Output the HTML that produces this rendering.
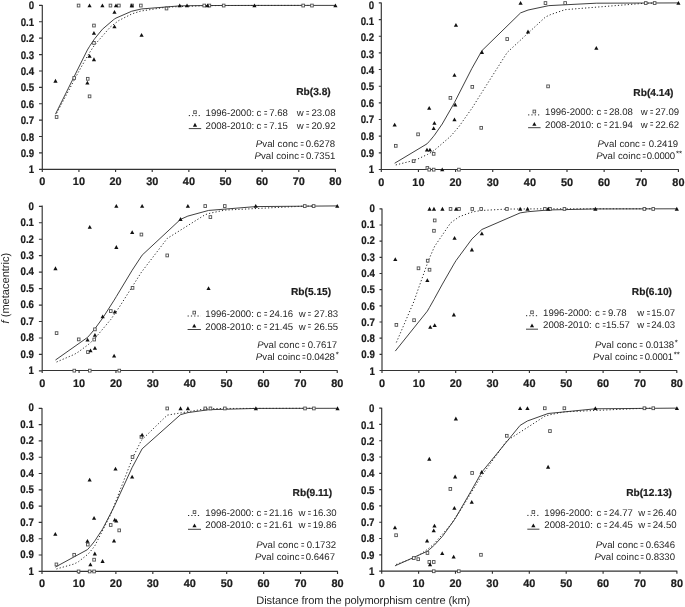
<!DOCTYPE html>
<html lang="en"><head><meta charset="utf-8"><title>Clines</title>
<style>html,body{margin:0;padding:0;background:#fff}body{width:685px;height:607px;overflow:hidden}svg{display:block;text-rendering:geometricPrecision}text{font-family:"Liberation Sans",Arial,sans-serif}.tk{font-weight:bold;font-size:11.0px;fill:#1c1c1c;stroke:#1c1c1c;stroke-width:0.22}.lg{font-size:9.6px;fill:#262626}.st{font-size:7.8px}.rb{font-weight:bold;font-size:10.2px;fill:#1c1c1c;stroke:#1c1c1c;stroke-width:0.2}.ax{stroke:#333;stroke-width:1.15;fill:none}.sl{stroke:#2a2a2a;stroke-width:0.9;fill:none;stroke-linejoin:round}.dl{stroke:#2a2a2a;stroke-width:1;fill:none;stroke-dasharray:1.2 2.1}.sq{fill:#fff;stroke:#505050;stroke-width:0.9}.tr{fill:#111;stroke:none}</style></head><body>
<svg width="685" height="607" viewBox="0 0 685 607">
<rect x="0" y="0" width="685" height="607" fill="#fff"/>
<g>
<path class="ax" d="M42.30 5.10V169.30H335.82M42.30 5.40h-3.3M42.30 21.79h-3.3M42.30 38.18h-3.3M42.30 54.57h-3.3M42.30 70.96h-3.3M42.30 87.35h-3.3M42.30 103.74h-3.3M42.30 120.13h-3.3M42.30 136.52h-3.3M42.30 152.91h-3.3M42.30 169.30h-3.3M42.30 169.30v2.6M78.94 169.30v2.6M115.58 169.30v2.6M152.22 169.30v2.6M188.86 169.30v2.6M225.50 169.30v2.6M262.14 169.30v2.6M298.78 169.30v2.6M335.42 169.30v2.6"/>
<text class="tk" text-anchor="end" transform="translate(34.1 9.3) scale(0.88 1)">0</text>
<text class="tk" text-anchor="end" transform="translate(34.1 25.7) scale(0.88 1)">0.1</text>
<text class="tk" text-anchor="end" transform="translate(34.1 42.1) scale(0.88 1)">0.2</text>
<text class="tk" text-anchor="end" transform="translate(34.1 58.5) scale(0.88 1)">0.3</text>
<text class="tk" text-anchor="end" transform="translate(34.1 74.9) scale(0.88 1)">0.4</text>
<text class="tk" text-anchor="end" transform="translate(34.1 91.3) scale(0.88 1)">0.5</text>
<text class="tk" text-anchor="end" transform="translate(34.1 107.7) scale(0.88 1)">0.6</text>
<text class="tk" text-anchor="end" transform="translate(34.1 124.1) scale(0.88 1)">0.7</text>
<text class="tk" text-anchor="end" transform="translate(34.1 140.5) scale(0.88 1)">0.8</text>
<text class="tk" text-anchor="end" transform="translate(34.1 156.8) scale(0.88 1)">0.9</text>
<text class="tk" text-anchor="end" transform="translate(34.1 173.2) scale(0.88 1)">1</text>
<text class="tk" text-anchor="middle" transform="translate(42.3 185.3) scale(0.99 1)">0</text>
<text class="tk" text-anchor="middle" transform="translate(78.9 185.3) scale(0.99 1)">10</text>
<text class="tk" text-anchor="middle" transform="translate(115.6 185.3) scale(0.99 1)">20</text>
<text class="tk" text-anchor="middle" transform="translate(152.2 185.3) scale(0.99 1)">30</text>
<text class="tk" text-anchor="middle" transform="translate(188.9 185.3) scale(0.99 1)">40</text>
<text class="tk" text-anchor="middle" transform="translate(225.5 185.3) scale(0.99 1)">50</text>
<text class="tk" text-anchor="middle" transform="translate(262.1 185.3) scale(0.99 1)">60</text>
<text class="tk" text-anchor="middle" transform="translate(298.8 185.3) scale(0.99 1)">70</text>
<text class="tk" text-anchor="middle" transform="translate(335.4 185.3) scale(0.99 1)">80</text>
<polyline class="dl" points="56.59,113.27 74.18,80.13 78.57,71.78 87.73,55.58 89.57,52.62 93.96,45.95 94.70,44.90 110.45,26.86 118.88,20.46 132.07,13.83 140.86,11.06 166.51,7.12 204.25,5.69 209.38,5.63 223.67,5.52 303.18,5.40 311.97,5.40"/>
<polyline class="sl" points="55.49,114.14 87.37,49.97 89.57,46.35 90.30,45.19 93.96,39.71 94.70,38.69 102.39,29.28 113.75,19.52 114.48,19.04 115.95,18.11 131.70,11.24 141.59,8.94 179.70,5.89 187.03,5.74 207.55,5.52 254.45,5.41 335.42,5.40"/>
<rect class="sq" x="77.27" y="4.15" width="2.6" height="2.8"/>
<rect class="sq" x="109.15" y="4.15" width="2.6" height="2.8"/>
<rect class="sq" x="117.58" y="4.15" width="2.6" height="2.8"/>
<rect class="sq" x="130.77" y="4.15" width="2.6" height="2.8"/>
<rect class="sq" x="139.56" y="4.15" width="2.6" height="2.8"/>
<rect class="sq" x="165.21" y="7.10" width="2.6" height="2.8"/>
<rect class="sq" x="92.66" y="24.15" width="2.6" height="2.8"/>
<rect class="sq" x="92.66" y="41.52" width="2.6" height="2.8"/>
<rect class="sq" x="72.88" y="76.59" width="2.6" height="2.8"/>
<rect class="sq" x="86.43" y="77.41" width="2.6" height="2.8"/>
<rect class="sq" x="88.27" y="94.95" width="2.6" height="2.8"/>
<rect class="sq" x="55.29" y="115.60" width="2.6" height="2.8"/>
<rect class="sq" x="202.95" y="4.15" width="2.6" height="2.8"/>
<rect class="sq" x="208.08" y="4.15" width="2.6" height="2.8"/>
<rect class="sq" x="222.37" y="4.15" width="2.6" height="2.8"/>
<rect class="sq" x="301.88" y="4.15" width="2.6" height="2.8"/>
<rect class="sq" x="310.67" y="4.15" width="2.6" height="2.8"/>
<path class="tr" d="M89.57 3.45L87.47 7.25L91.67 7.25Z"/>
<path class="tr" d="M102.39 3.45L100.29 7.25L104.49 7.25Z"/>
<path class="tr" d="M115.95 3.45L113.85 7.25L118.05 7.25Z"/>
<path class="tr" d="M131.70 3.45L129.60 7.25L133.80 7.25Z"/>
<path class="tr" d="M114.48 10.01L112.38 13.81L116.58 13.81Z"/>
<path class="tr" d="M114.48 24.43L112.38 28.23L116.58 28.23Z"/>
<path class="tr" d="M93.96 30.99L91.86 34.79L96.06 34.79Z"/>
<path class="tr" d="M141.59 32.95L139.49 36.75L143.69 36.75Z"/>
<path class="tr" d="M89.57 53.93L87.47 57.73L91.67 57.73Z"/>
<path class="tr" d="M93.96 57.37L91.86 61.17L96.06 61.17Z"/>
<path class="tr" d="M55.49 78.84L53.39 82.64L57.59 82.64Z"/>
<path class="tr" d="M87.37 80.81L85.27 84.61L89.47 84.61Z"/>
<path class="tr" d="M179.70 3.45L177.60 7.25L181.80 7.25Z"/>
<path class="tr" d="M187.03 3.45L184.93 7.25L189.13 7.25Z"/>
<path class="tr" d="M207.55 3.45L205.45 7.25L209.65 7.25Z"/>
<path class="tr" d="M254.45 3.45L252.35 7.25L256.55 7.25Z"/>
<path class="tr" d="M335.42 3.45L333.32 7.25L337.52 7.25Z"/>
<text class="rb" text-anchor="end" x="330.7" y="95.4">Rb(3.8)</text>
<path class="dl" d="M188.8 115.6H201.2"/>
<rect class="sq" x="193.70" y="110.80" width="2.6" height="2.8"/>
<path class="sl" d="M188.8 128.6H201.2"/>
<path class="tr" d="M195.00 122.85L192.90 126.65L197.10 126.65Z"/>
<text class="lg" y="116.3"><tspan x="205.6">1996-2000:</tspan><tspan x="256.4">c</tspan><tspan x="269.2">7.68</tspan><tspan x="296.8">w</tspan><tspan x="335.5" text-anchor="end">23.08</tspan></text>
<text class="lg" text-anchor="middle" transform="translate(265.8 116.2) scale(0.6 1)">=</text>
<text class="lg" text-anchor="middle" transform="translate(307.7 116.2) scale(0.6 1)">=</text>
<text class="lg" y="129.2"><tspan x="205.6">2008-2010:</tspan><tspan x="256.4">c</tspan><tspan x="269.2">7.15</tspan><tspan x="296.8">w</tspan><tspan x="335.5" text-anchor="end">20.92</tspan></text>
<text class="lg" text-anchor="middle" transform="translate(265.8 129.1) scale(0.6 1)">=</text>
<text class="lg" text-anchor="middle" transform="translate(307.7 129.1) scale(0.6 1)">=</text>
<text class="lg" y="147.2"><tspan x="255.8" letter-spacing="0.09"><tspan font-style="italic">P</tspan>val conc</tspan><tspan x="335.1" text-anchor="end">0.6278</tspan></text>
<text class="lg" text-anchor="middle" transform="translate(302.1 147.1) scale(0.6 1)">=</text>
<text class="lg" y="159.4"><tspan x="254.4" letter-spacing="0.09"><tspan font-style="italic">P</tspan>val coinc</tspan><tspan x="335.3" text-anchor="end">0.7351</tspan></text>
<text class="lg" text-anchor="middle" transform="translate(302.5 159.3) scale(0.6 1)">=</text>
</g>
<g>
<path class="ax" d="M381.30 2.60V169.50H678.82M381.30 2.90h-2.5M381.30 19.56h-2.5M381.30 36.22h-2.5M381.30 52.88h-2.5M381.30 69.54h-2.5M381.30 86.20h-2.5M381.30 102.86h-2.5M381.30 119.52h-2.5M381.30 136.18h-2.5M381.30 152.84h-2.5M381.30 169.50h-2.5M381.30 169.50v2.6M418.44 169.50v2.6M455.58 169.50v2.6M492.72 169.50v2.6M529.86 169.50v2.6M567.00 169.50v2.6M604.14 169.50v2.6M641.28 169.50v2.6M678.42 169.50v2.6"/>
<text class="tk" text-anchor="end" transform="translate(374.1 8.6) scale(0.88 1)">0</text>
<text class="tk" text-anchor="end" transform="translate(374.1 25.0) scale(0.88 1)">0.1</text>
<text class="tk" text-anchor="end" transform="translate(374.1 41.3) scale(0.88 1)">0.2</text>
<text class="tk" text-anchor="end" transform="translate(374.1 57.6) scale(0.88 1)">0.3</text>
<text class="tk" text-anchor="end" transform="translate(374.1 74.0) scale(0.88 1)">0.4</text>
<text class="tk" text-anchor="end" transform="translate(374.1 90.3) scale(0.88 1)">0.5</text>
<text class="tk" text-anchor="end" transform="translate(374.1 106.6) scale(0.88 1)">0.6</text>
<text class="tk" text-anchor="end" transform="translate(374.1 123.3) scale(0.88 1)">0.7</text>
<text class="tk" text-anchor="end" transform="translate(374.1 139.9) scale(0.88 1)">0.8</text>
<text class="tk" text-anchor="end" transform="translate(374.1 156.6) scale(0.88 1)">0.9</text>
<text class="tk" text-anchor="end" transform="translate(374.1 173.2) scale(0.88 1)">1</text>
<text class="tk" text-anchor="middle" transform="translate(381.3 185.5) scale(0.99 1)">0</text>
<text class="tk" text-anchor="middle" transform="translate(418.4 185.5) scale(0.99 1)">10</text>
<text class="tk" text-anchor="middle" transform="translate(455.6 185.5) scale(0.99 1)">20</text>
<text class="tk" text-anchor="middle" transform="translate(492.7 185.5) scale(0.99 1)">30</text>
<text class="tk" text-anchor="middle" transform="translate(529.9 185.5) scale(0.99 1)">40</text>
<text class="tk" text-anchor="middle" transform="translate(567.0 185.5) scale(0.99 1)">50</text>
<text class="tk" text-anchor="middle" transform="translate(604.1 185.5) scale(0.99 1)">60</text>
<text class="tk" text-anchor="middle" transform="translate(641.3 185.5) scale(0.99 1)">70</text>
<text class="tk" text-anchor="middle" transform="translate(678.4 185.5) scale(0.99 1)">80</text>
<polyline class="dl" points="395.78,164.94 413.61,160.49 418.07,158.85 427.35,154.53 429.21,153.49 433.67,150.74 434.41,150.24 450.38,136.54 458.92,126.64 472.29,107.72 481.21,93.44 507.20,52.46 545.46,17.01 550.66,14.56 565.14,9.66 645.74,3.19 654.65,3.10"/>
<polyline class="sl" points="394.67,163.24 426.98,143.87 429.21,141.48 429.95,140.65 433.67,136.18 434.41,135.23 442.21,124.03 453.72,103.90 454.47,102.49 455.95,99.63 471.92,68.36 481.95,50.63 520.58,12.90 528.00,10.05 548.80,5.63 596.34,3.19 678.42,2.91"/>
<rect class="sq" x="394.48" y="144.43" width="2.6" height="2.8"/>
<rect class="sq" x="412.31" y="159.75" width="2.6" height="2.8"/>
<rect class="sq" x="416.77" y="132.93" width="2.6" height="2.8"/>
<rect class="sq" x="426.05" y="166.58" width="2.6" height="2.8"/>
<rect class="sq" x="427.91" y="168.25" width="2.6" height="2.8"/>
<rect class="sq" x="432.37" y="168.25" width="2.6" height="2.8"/>
<rect class="sq" x="432.37" y="152.42" width="2.6" height="2.8"/>
<rect class="sq" x="449.08" y="96.45" width="2.6" height="2.8"/>
<rect class="sq" x="457.62" y="168.25" width="2.6" height="2.8"/>
<rect class="sq" x="479.91" y="126.43" width="2.6" height="2.8"/>
<rect class="sq" x="470.99" y="85.45" width="2.6" height="2.8"/>
<rect class="sq" x="505.90" y="37.64" width="2.6" height="2.8"/>
<rect class="sq" x="544.16" y="1.65" width="2.6" height="2.8"/>
<rect class="sq" x="563.84" y="1.65" width="2.6" height="2.8"/>
<rect class="sq" x="644.44" y="1.65" width="2.6" height="2.8"/>
<rect class="sq" x="653.35" y="1.65" width="2.6" height="2.8"/>
<rect class="sq" x="546.76" y="84.95" width="2.6" height="2.8"/>
<path class="tr" d="M394.67 122.73L392.57 126.53L396.77 126.53Z"/>
<path class="tr" d="M429.21 105.91L427.11 109.71L431.31 109.71Z"/>
<path class="tr" d="M434.41 120.90L432.31 124.70L436.51 124.70Z"/>
<path class="tr" d="M433.67 126.23L431.57 130.03L435.77 130.03Z"/>
<path class="tr" d="M426.98 147.72L424.88 151.52L429.08 151.52Z"/>
<path class="tr" d="M429.95 147.72L427.85 151.52L432.05 151.52Z"/>
<path class="tr" d="M442.21 167.55L440.11 171.35L444.31 171.35Z"/>
<path class="tr" d="M455.21 102.58L453.11 106.38L457.31 106.38Z"/>
<path class="tr" d="M454.47 117.57L452.37 121.37L456.57 121.37Z"/>
<path class="tr" d="M455.95 22.94L453.85 26.74L458.05 26.74Z"/>
<path class="tr" d="M454.47 72.92L452.37 76.72L456.57 76.72Z"/>
<path class="tr" d="M481.95 50.10L479.85 53.90L484.05 53.90Z"/>
<path class="tr" d="M520.58 0.95L518.48 4.75L522.68 4.75Z"/>
<path class="tr" d="M678.42 0.95L676.32 4.75L680.52 4.75Z"/>
<path class="tr" d="M528.00 29.61L525.90 33.41L530.10 33.41Z"/>
<path class="tr" d="M596.34 45.93L594.24 49.73L598.44 49.73Z"/>
<text class="rb" text-anchor="end" x="673.5" y="96.0">Rb(4.14)</text>
<path class="dl" d="M528.1 114.9H540.6"/>
<rect class="sq" x="533.05" y="110.10" width="2.6" height="2.8"/>
<path class="sl" d="M528.1 127.7H540.6"/>
<path class="tr" d="M534.35 121.95L532.25 125.75L536.45 125.75Z"/>
<text class="lg" y="115.0"><tspan x="545.1">1996-2000:</tspan><tspan x="596.5">c</tspan><tspan x="608.9">28.08</tspan><tspan x="640.7">w</tspan><tspan x="679.2" text-anchor="end">27.09</tspan></text>
<text class="lg" text-anchor="middle" transform="translate(605.8 114.9) scale(0.6 1)">=</text>
<text class="lg" text-anchor="middle" transform="translate(651.6 114.9) scale(0.6 1)">=</text>
<text class="lg" y="127.5"><tspan x="545.1">2008-2010:</tspan><tspan x="596.5">c</tspan><tspan x="608.9">21.94</tspan><tspan x="640.7">w</tspan><tspan x="679.2" text-anchor="end">22.62</tspan></text>
<text class="lg" text-anchor="middle" transform="translate(605.8 127.4) scale(0.6 1)">=</text>
<text class="lg" text-anchor="middle" transform="translate(651.6 127.4) scale(0.6 1)">=</text>
<text class="lg" y="146.7"><tspan x="597.6" letter-spacing="0.09"><tspan font-style="italic">P</tspan>val conc</tspan><tspan x="678.1" text-anchor="end">0.2419</tspan></text>
<text class="lg" text-anchor="middle" transform="translate(643.6 146.6) scale(0.6 1)">=</text>
<text class="lg" y="159.0"><tspan x="596.2" letter-spacing="0.09"><tspan font-style="italic">P</tspan>val coinc</tspan><tspan x="674.9" text-anchor="end" letter-spacing="-0.2">0.0000</tspan><tspan class="st" x="675.9" dy="-2.6">**</tspan></text>
<text class="lg" text-anchor="middle" transform="translate(644.2 158.9) scale(0.6 1)">=</text>
</g>
<g>
<path class="ax" d="M42.20 205.60V370.50H337.64M42.20 206.30h-3.3M42.20 222.76h-3.3M42.20 239.22h-3.3M42.20 255.68h-3.3M42.20 272.14h-3.3M42.20 288.60h-3.3M42.20 305.06h-3.3M42.20 321.52h-3.3M42.20 337.98h-3.3M42.20 354.44h-3.3M42.20 370.90h-3.3M42.20 370.50v2.6M79.08 370.50v2.6M115.96 370.50v2.6M152.84 370.50v2.6M189.72 370.50v2.6M226.60 370.50v2.6M263.48 370.50v2.6M300.36 370.50v2.6M337.24 370.50v2.6"/>
<text class="tk" text-anchor="end" transform="translate(34.0 209.5) scale(0.88 1)">0</text>
<text class="tk" text-anchor="end" transform="translate(34.0 226.0) scale(0.88 1)">0.1</text>
<text class="tk" text-anchor="end" transform="translate(34.0 242.5) scale(0.88 1)">0.2</text>
<text class="tk" text-anchor="end" transform="translate(34.0 258.9) scale(0.88 1)">0.3</text>
<text class="tk" text-anchor="end" transform="translate(34.0 275.4) scale(0.88 1)">0.4</text>
<text class="tk" text-anchor="end" transform="translate(34.0 291.8) scale(0.88 1)">0.5</text>
<text class="tk" text-anchor="end" transform="translate(34.0 308.3) scale(0.88 1)">0.6</text>
<text class="tk" text-anchor="end" transform="translate(34.0 324.8) scale(0.88 1)">0.7</text>
<text class="tk" text-anchor="end" transform="translate(34.0 341.2) scale(0.88 1)">0.8</text>
<text class="tk" text-anchor="end" transform="translate(34.0 357.7) scale(0.88 1)">0.9</text>
<text class="tk" text-anchor="end" transform="translate(34.0 374.1) scale(0.88 1)">1</text>
<text class="tk" text-anchor="middle" transform="translate(42.2 386.5) scale(0.99 1)">0</text>
<text class="tk" text-anchor="middle" transform="translate(79.1 386.5) scale(0.99 1)">10</text>
<text class="tk" text-anchor="middle" transform="translate(116.0 386.5) scale(0.99 1)">20</text>
<text class="tk" text-anchor="middle" transform="translate(152.8 386.5) scale(0.99 1)">30</text>
<text class="tk" text-anchor="middle" transform="translate(189.7 386.5) scale(0.99 1)">40</text>
<text class="tk" text-anchor="middle" transform="translate(226.6 386.5) scale(0.99 1)">50</text>
<text class="tk" text-anchor="middle" transform="translate(263.5 386.5) scale(0.99 1)">60</text>
<text class="tk" text-anchor="middle" transform="translate(300.4 386.5) scale(0.99 1)">70</text>
<text class="tk" text-anchor="middle" transform="translate(337.2 386.5) scale(0.99 1)">80</text>
<polyline class="dl" points="56.58,362.01 74.29,354.40 78.71,351.72 87.93,344.86 89.78,343.27 94.20,339.12 94.94,338.39 110.80,319.44 119.28,307.14 132.56,286.19 141.41,272.20 167.22,238.46 205.21,214.65 210.37,213.12 224.76,210.10 304.79,206.09 313.64,206.03"/>
<polyline class="sl" points="55.48,360.03 87.56,337.38 89.78,334.92 90.51,334.07 94.20,329.62 94.94,328.69 102.68,318.08 114.12,300.20 114.85,298.99 116.33,296.54 132.19,270.21 142.14,255.14 180.50,219.37 187.88,216.08 208.53,210.44 255.74,206.58 337.24,205.92"/>
<rect class="sq" x="140.11" y="233.13" width="2.6" height="2.8"/>
<rect class="sq" x="165.92" y="254.03" width="2.6" height="2.8"/>
<rect class="sq" x="131.26" y="286.46" width="2.6" height="2.8"/>
<rect class="sq" x="55.28" y="331.72" width="2.6" height="2.8"/>
<rect class="sq" x="77.41" y="337.98" width="2.6" height="2.8"/>
<rect class="sq" x="93.64" y="327.94" width="2.6" height="2.8"/>
<rect class="sq" x="92.90" y="338.14" width="2.6" height="2.8"/>
<rect class="sq" x="86.63" y="350.65" width="2.6" height="2.8"/>
<rect class="sq" x="109.50" y="309.66" width="2.6" height="2.8"/>
<rect class="sq" x="72.99" y="369.25" width="2.6" height="2.8"/>
<rect class="sq" x="88.48" y="369.25" width="2.6" height="2.8"/>
<rect class="sq" x="117.98" y="369.25" width="2.6" height="2.8"/>
<rect class="sq" x="203.91" y="204.65" width="2.6" height="2.8"/>
<rect class="sq" x="209.07" y="215.68" width="2.6" height="2.8"/>
<rect class="sq" x="223.46" y="204.65" width="2.6" height="2.8"/>
<rect class="sq" x="303.49" y="204.65" width="2.6" height="2.8"/>
<rect class="sq" x="312.34" y="204.65" width="2.6" height="2.8"/>
<path class="tr" d="M55.48 266.33L53.38 270.13L57.58 270.13Z"/>
<path class="tr" d="M89.78 225.02L87.68 228.82L91.88 228.82Z"/>
<path class="tr" d="M116.33 203.95L114.23 207.75L118.43 207.75Z"/>
<path class="tr" d="M142.14 203.95L140.04 207.75L144.24 207.75Z"/>
<path class="tr" d="M132.19 230.29L130.09 234.09L134.29 234.09Z"/>
<path class="tr" d="M116.33 245.10L114.23 248.90L118.43 248.90Z"/>
<path class="tr" d="M87.56 337.77L85.46 341.57L89.66 341.57Z"/>
<path class="tr" d="M94.94 333.00L92.84 336.80L97.04 336.80Z"/>
<path class="tr" d="M102.68 314.40L100.58 318.20L104.78 318.20Z"/>
<path class="tr" d="M114.85 309.79L112.75 313.59L116.95 313.59Z"/>
<path class="tr" d="M90.51 348.47L88.41 352.27L92.61 352.27Z"/>
<path class="tr" d="M94.94 346.00L92.84 349.80L97.04 349.80Z"/>
<path class="tr" d="M114.12 353.74L112.02 357.54L116.22 357.54Z"/>
<path class="tr" d="M180.50 217.12L178.40 220.92L182.60 220.92Z"/>
<path class="tr" d="M187.88 203.95L185.78 207.75L189.98 207.75Z"/>
<path class="tr" d="M255.74 203.95L253.64 207.75L257.84 207.75Z"/>
<path class="tr" d="M337.24 203.95L335.14 207.75L339.34 207.75Z"/>
<path class="tr" d="M208.53 286.25L206.43 290.05L210.63 290.05Z"/>
<text class="rb" text-anchor="end" x="331.2" y="295.0">Rb(5.15)</text>
<path class="dl" d="M187.6 316.0H200.9"/>
<rect class="sq" x="192.95" y="311.20" width="2.6" height="2.8"/>
<path class="sl" d="M187.6 329.5H200.9"/>
<path class="tr" d="M194.25 323.75L192.15 327.55L196.35 327.55Z"/>
<text class="lg" y="317.3"><tspan x="205.3">1996-2000:</tspan><tspan x="256.5">c</tspan><tspan x="269.2">24.16</tspan><tspan x="298.7">w</tspan><tspan x="338.1" text-anchor="end">27.83</tspan></text>
<text class="lg" text-anchor="middle" transform="translate(265.8 317.2) scale(0.6 1)">=</text>
<text class="lg" text-anchor="middle" transform="translate(309.5 317.2) scale(0.6 1)">=</text>
<text class="lg" y="329.5"><tspan x="205.3">2008-2010:</tspan><tspan x="256.5">c</tspan><tspan x="269.2">21.45</tspan><tspan x="298.7">w</tspan><tspan x="338.1" text-anchor="end">26.55</tspan></text>
<text class="lg" text-anchor="middle" transform="translate(265.8 329.4) scale(0.6 1)">=</text>
<text class="lg" text-anchor="middle" transform="translate(309.5 329.4) scale(0.6 1)">=</text>
<text class="lg" y="347.9"><tspan x="257.2" letter-spacing="0.09"><tspan font-style="italic">P</tspan>val conc</tspan><tspan x="337.1" text-anchor="end">0.7617</tspan></text>
<text class="lg" text-anchor="middle" transform="translate(303.5 347.8) scale(0.6 1)">=</text>
<text class="lg" y="360.0"><tspan x="255.8" letter-spacing="0.09"><tspan font-style="italic">P</tspan>val coinc</tspan><tspan x="334.7" text-anchor="end" letter-spacing="-0.2">0.0428</tspan><tspan class="st" x="335.7" dy="-2.6">*</tspan></text>
<text class="lg" text-anchor="middle" transform="translate(303.9 359.9) scale(0.6 1)">=</text>
</g>
<g>
<path class="ax" d="M382.00 208.50V370.50H677.20M382.00 208.80h-2.5M382.00 224.97h-2.5M382.00 241.14h-2.5M382.00 257.31h-2.5M382.00 273.48h-2.5M382.00 289.65h-2.5M382.00 305.82h-2.5M382.00 321.99h-2.5M382.00 338.16h-2.5M382.00 354.33h-2.5M382.00 370.50h-2.5M382.00 370.50v2.6M418.85 370.50v2.6M455.70 370.50v2.6M492.55 370.50v2.6M529.40 370.50v2.6M566.25 370.50v2.6M603.10 370.50v2.6M639.95 370.50v2.6M676.80 370.50v2.6"/>
<text class="tk" text-anchor="end" transform="translate(374.8 211.8) scale(0.88 1)">0</text>
<text class="tk" text-anchor="end" transform="translate(374.8 228.1) scale(0.88 1)">0.1</text>
<text class="tk" text-anchor="end" transform="translate(374.8 244.4) scale(0.88 1)">0.2</text>
<text class="tk" text-anchor="end" transform="translate(374.8 260.6) scale(0.88 1)">0.3</text>
<text class="tk" text-anchor="end" transform="translate(374.8 276.9) scale(0.88 1)">0.4</text>
<text class="tk" text-anchor="end" transform="translate(374.8 293.2) scale(0.88 1)">0.5</text>
<text class="tk" text-anchor="end" transform="translate(374.8 309.5) scale(0.88 1)">0.6</text>
<text class="tk" text-anchor="end" transform="translate(374.8 325.7) scale(0.88 1)">0.7</text>
<text class="tk" text-anchor="end" transform="translate(374.8 342.0) scale(0.88 1)">0.8</text>
<text class="tk" text-anchor="end" transform="translate(374.8 358.3) scale(0.88 1)">0.9</text>
<text class="tk" text-anchor="end" transform="translate(374.8 374.5) scale(0.88 1)">1</text>
<text class="tk" text-anchor="middle" transform="translate(382.0 386.5) scale(0.99 1)">0</text>
<text class="tk" text-anchor="middle" transform="translate(418.9 386.5) scale(0.99 1)">10</text>
<text class="tk" text-anchor="middle" transform="translate(455.7 386.5) scale(0.99 1)">20</text>
<text class="tk" text-anchor="middle" transform="translate(492.6 386.5) scale(0.99 1)">30</text>
<text class="tk" text-anchor="middle" transform="translate(529.4 386.5) scale(0.99 1)">40</text>
<text class="tk" text-anchor="middle" transform="translate(566.2 386.5) scale(0.99 1)">50</text>
<text class="tk" text-anchor="middle" transform="translate(603.1 386.5) scale(0.99 1)">60</text>
<text class="tk" text-anchor="middle" transform="translate(640.0 386.5) scale(0.99 1)">70</text>
<text class="tk" text-anchor="middle" transform="translate(676.8 386.5) scale(0.99 1)">80</text>
<polyline class="dl" points="396.37,342.44 414.06,301.16 418.48,288.36 427.69,262.62 429.54,257.96 433.96,247.79 434.70,246.24 450.54,222.99 459.02,216.83 472.28,211.99 481.13,210.50 506.92,209.07 544.88,208.82 550.04,208.81 564.41,208.80 644.37,208.80 653.22,208.80"/>
<polyline class="sl" points="395.27,351.10 427.33,311.13 429.54,307.33 430.27,306.04 433.96,299.49 434.70,298.16 442.43,284.07 453.86,264.11 454.59,262.90 456.07,260.53 471.91,239.03 481.86,229.49 520.19,212.89 527.56,211.76 548.19,209.98 595.36,208.94 676.80,208.80"/>
<rect class="sq" x="449.24" y="207.55" width="2.6" height="2.8"/>
<rect class="sq" x="457.72" y="207.55" width="2.6" height="2.8"/>
<rect class="sq" x="470.98" y="207.55" width="2.6" height="2.8"/>
<rect class="sq" x="479.83" y="207.55" width="2.6" height="2.8"/>
<rect class="sq" x="505.62" y="207.55" width="2.6" height="2.8"/>
<rect class="sq" x="433.40" y="219.03" width="2.6" height="2.8"/>
<rect class="sq" x="432.66" y="229.38" width="2.6" height="2.8"/>
<rect class="sq" x="426.39" y="259.29" width="2.6" height="2.8"/>
<rect class="sq" x="417.18" y="266.89" width="2.6" height="2.8"/>
<rect class="sq" x="428.24" y="268.35" width="2.6" height="2.8"/>
<rect class="sq" x="395.07" y="323.49" width="2.6" height="2.8"/>
<rect class="sq" x="412.76" y="318.80" width="2.6" height="2.8"/>
<rect class="sq" x="543.58" y="207.55" width="2.6" height="2.8"/>
<rect class="sq" x="548.74" y="207.55" width="2.6" height="2.8"/>
<rect class="sq" x="563.11" y="207.55" width="2.6" height="2.8"/>
<rect class="sq" x="643.07" y="207.55" width="2.6" height="2.8"/>
<rect class="sq" x="651.92" y="207.55" width="2.6" height="2.8"/>
<path class="tr" d="M395.27 257.14L393.17 260.94L397.37 260.94Z"/>
<path class="tr" d="M429.54 206.85L427.44 210.65L431.64 210.65Z"/>
<path class="tr" d="M433.96 206.85L431.86 210.65L436.06 210.65Z"/>
<path class="tr" d="M442.43 206.85L440.33 210.65L444.53 210.65Z"/>
<path class="tr" d="M456.07 206.85L453.97 210.65L458.17 210.65Z"/>
<path class="tr" d="M454.59 235.96L452.49 239.76L456.69 239.76Z"/>
<path class="tr" d="M427.33 278.16L425.23 281.96L429.43 281.96Z"/>
<path class="tr" d="M471.91 247.60L469.81 251.40L474.01 251.40Z"/>
<path class="tr" d="M481.86 231.43L479.76 235.23L483.96 235.23Z"/>
<path class="tr" d="M430.27 325.05L428.17 328.85L432.37 328.85Z"/>
<path class="tr" d="M434.70 323.27L432.60 327.07L436.80 327.07Z"/>
<path class="tr" d="M453.86 312.60L451.76 316.40L455.96 316.40Z"/>
<path class="tr" d="M520.19 206.85L518.09 210.65L522.29 210.65Z"/>
<path class="tr" d="M527.56 206.85L525.46 210.65L529.66 210.65Z"/>
<path class="tr" d="M548.19 206.85L546.09 210.65L550.29 210.65Z"/>
<path class="tr" d="M595.36 206.85L593.26 210.65L597.46 210.65Z"/>
<path class="tr" d="M676.80 206.85L674.70 210.65L678.90 210.65Z"/>
<text class="rb" text-anchor="end" x="672.0" y="294.6">Rb(6.10)</text>
<path class="dl" d="M526.0 315.7H538.0"/>
<rect class="sq" x="530.70" y="310.90" width="2.6" height="2.8"/>
<path class="sl" d="M526.0 329.2H538.0"/>
<path class="tr" d="M532.00 323.45L529.90 327.25L534.10 327.25Z"/>
<text class="lg" y="316.1"><tspan x="543.1">1996-2000:</tspan><tspan x="594.9">c</tspan><tspan x="607.9">9.78</tspan><tspan x="637.3">w</tspan><tspan x="675.2" text-anchor="end">15.07</tspan></text>
<text class="lg" text-anchor="middle" transform="translate(604.2 316.0) scale(0.6 1)">=</text>
<text class="lg" text-anchor="middle" transform="translate(648.5 316.0) scale(0.6 1)">=</text>
<text class="lg" y="328.4"><tspan x="543.1">2008-2010:</tspan><tspan x="594.9">c</tspan><tspan x="605.9">15.57</tspan><tspan x="637.3">w</tspan><tspan x="675.2" text-anchor="end">24.03</tspan></text>
<text class="lg" text-anchor="middle" transform="translate(604.2 328.3) scale(0.6 1)">=</text>
<text class="lg" text-anchor="middle" transform="translate(648.5 328.3) scale(0.6 1)">=</text>
<text class="lg" y="347.9"><tspan x="594.9" letter-spacing="0.09"><tspan font-style="italic">P</tspan>val conc</tspan><tspan x="673.8" text-anchor="end" letter-spacing="-0.2">0.0138</tspan><tspan class="st" x="674.8" dy="-2.6">*</tspan></text>
<text class="lg" text-anchor="middle" transform="translate(641.3 347.8) scale(0.6 1)">=</text>
<text class="lg" y="360.0"><tspan x="593.1" letter-spacing="0.09"><tspan font-style="italic">P</tspan>val coinc</tspan><tspan x="672.8" text-anchor="end" letter-spacing="-0.2">0.0001</tspan><tspan class="st" x="673.8" dy="-2.6">**</tspan></text>
<text class="lg" text-anchor="middle" transform="translate(641.5 359.9) scale(0.6 1)">=</text>
</g>
<g>
<path class="ax" d="M42.00 408.00V571.30H337.92M42.00 408.30h-3.3M42.00 424.60h-3.3M42.00 440.90h-3.3M42.00 457.20h-3.3M42.00 473.50h-3.3M42.00 489.80h-3.3M42.00 506.10h-3.3M42.00 522.40h-3.3M42.00 538.70h-3.3M42.00 555.00h-3.3M42.00 571.30h-3.3M42.00 571.30v2.6M78.94 571.30v2.6M115.88 571.30v2.6M152.82 571.30v2.6M189.76 571.30v2.6M226.70 571.30v2.6M263.64 571.30v2.6M300.58 571.30v2.6M337.52 571.30v2.6"/>
<text class="tk" text-anchor="end" transform="translate(33.8 411.1) scale(0.88 1)">0</text>
<text class="tk" text-anchor="end" transform="translate(33.8 427.5) scale(0.88 1)">0.1</text>
<text class="tk" text-anchor="end" transform="translate(33.8 443.9) scale(0.88 1)">0.2</text>
<text class="tk" text-anchor="end" transform="translate(33.8 460.2) scale(0.88 1)">0.3</text>
<text class="tk" text-anchor="end" transform="translate(33.8 476.6) scale(0.88 1)">0.4</text>
<text class="tk" text-anchor="end" transform="translate(33.8 492.9) scale(0.88 1)">0.5</text>
<text class="tk" text-anchor="end" transform="translate(33.8 509.3) scale(0.88 1)">0.6</text>
<text class="tk" text-anchor="end" transform="translate(33.8 525.7) scale(0.88 1)">0.7</text>
<text class="tk" text-anchor="end" transform="translate(33.8 542.0) scale(0.88 1)">0.8</text>
<text class="tk" text-anchor="end" transform="translate(33.8 558.4) scale(0.88 1)">0.9</text>
<text class="tk" text-anchor="end" transform="translate(33.8 574.7) scale(0.88 1)">1</text>
<text class="tk" text-anchor="middle" transform="translate(42.0 587.3) scale(0.99 1)">0</text>
<text class="tk" text-anchor="middle" transform="translate(78.9 587.3) scale(0.99 1)">10</text>
<text class="tk" text-anchor="middle" transform="translate(115.9 587.3) scale(0.99 1)">20</text>
<text class="tk" text-anchor="middle" transform="translate(152.8 587.3) scale(0.99 1)">30</text>
<text class="tk" text-anchor="middle" transform="translate(189.8 587.3) scale(0.99 1)">40</text>
<text class="tk" text-anchor="middle" transform="translate(226.7 587.3) scale(0.99 1)">50</text>
<text class="tk" text-anchor="middle" transform="translate(263.6 587.3) scale(0.99 1)">60</text>
<text class="tk" text-anchor="middle" transform="translate(300.6 587.3) scale(0.99 1)">70</text>
<text class="tk" text-anchor="middle" transform="translate(337.5 587.3) scale(0.99 1)">80</text>
<polyline class="dl" points="56.41,568.97 74.14,563.98 78.57,561.63 87.81,554.29 89.65,552.33 94.09,546.81 94.82,545.77 110.71,514.59 119.20,492.40 132.50,458.15 141.37,440.32 167.23,415.15 205.27,408.87 210.45,408.70 224.85,408.46 305.01,408.30 313.88,408.30"/>
<polyline class="sl" points="55.30,567.08 87.44,549.63 89.65,547.26 90.39,546.42 94.09,541.87 94.82,540.89 102.58,529.03 114.03,506.86 114.77,505.29 116.25,502.10 132.13,467.49 142.11,448.83 180.53,414.68 187.91,412.62 208.60,409.72 255.88,408.41 337.52,408.30"/>
<rect class="sq" x="165.93" y="407.05" width="2.6" height="2.8"/>
<rect class="sq" x="140.07" y="435.41" width="2.6" height="2.8"/>
<rect class="sq" x="131.20" y="455.62" width="2.6" height="2.8"/>
<rect class="sq" x="55.11" y="563.04" width="2.6" height="2.8"/>
<rect class="sq" x="72.84" y="553.42" width="2.6" height="2.8"/>
<rect class="sq" x="86.51" y="543.15" width="2.6" height="2.8"/>
<rect class="sq" x="92.79" y="558.31" width="2.6" height="2.8"/>
<rect class="sq" x="109.41" y="523.60" width="2.6" height="2.8"/>
<rect class="sq" x="117.90" y="528.97" width="2.6" height="2.8"/>
<rect class="sq" x="77.27" y="570.05" width="2.6" height="2.8"/>
<rect class="sq" x="88.35" y="570.05" width="2.6" height="2.8"/>
<rect class="sq" x="92.79" y="570.05" width="2.6" height="2.8"/>
<rect class="sq" x="203.97" y="407.05" width="2.6" height="2.8"/>
<rect class="sq" x="209.15" y="407.05" width="2.6" height="2.8"/>
<rect class="sq" x="223.55" y="407.05" width="2.6" height="2.8"/>
<rect class="sq" x="303.71" y="407.05" width="2.6" height="2.8"/>
<rect class="sq" x="312.58" y="407.05" width="2.6" height="2.8"/>
<path class="tr" d="M89.65 477.74L87.55 481.54L91.75 481.54Z"/>
<path class="tr" d="M115.51 466.82L113.41 470.62L117.61 470.62Z"/>
<path class="tr" d="M132.13 474.81L130.03 478.61L134.23 478.61Z"/>
<path class="tr" d="M142.11 432.76L140.01 436.56L144.21 436.56Z"/>
<path class="tr" d="M55.30 532.02L53.20 535.82L57.40 535.82Z"/>
<path class="tr" d="M94.09 515.89L91.99 519.69L96.19 519.69Z"/>
<path class="tr" d="M87.44 539.03L85.34 542.83L89.54 542.83Z"/>
<path class="tr" d="M94.82 551.58L92.72 555.38L96.92 555.38Z"/>
<path class="tr" d="M90.39 562.50L88.29 566.30L92.49 566.30Z"/>
<path class="tr" d="M102.58 559.08L100.48 562.88L104.68 562.88Z"/>
<path class="tr" d="M114.77 517.68L112.67 521.48L116.87 521.48Z"/>
<path class="tr" d="M116.25 518.82L114.15 522.62L118.35 522.62Z"/>
<path class="tr" d="M114.03 538.71L111.93 542.51L116.13 542.51Z"/>
<path class="tr" d="M180.53 406.35L178.43 410.15L182.62 410.15Z"/>
<path class="tr" d="M187.91 406.35L185.81 410.15L190.01 410.15Z"/>
<path class="tr" d="M255.88 406.35L253.78 410.15L257.98 410.15Z"/>
<path class="tr" d="M337.52 406.35L335.42 410.15L339.62 410.15Z"/>
<text class="rb" text-anchor="end" x="332.2" y="496.0">Rb(9.11)</text>
<path class="dl" d="M188.0 515.5H201.0"/>
<rect class="sq" x="193.20" y="510.70" width="2.6" height="2.8"/>
<path class="sl" d="M188.0 529.3H201.0"/>
<path class="tr" d="M194.50 523.55L192.40 527.35L196.60 527.35Z"/>
<text class="lg" y="515.7"><tspan x="205.3">1996-2000:</tspan><tspan x="256.5">c</tspan><tspan x="268.9">21.16</tspan><tspan x="298.4">w</tspan><tspan x="336.7" text-anchor="end">16.30</tspan></text>
<text class="lg" text-anchor="middle" transform="translate(265.8 515.6) scale(0.6 1)">=</text>
<text class="lg" text-anchor="middle" transform="translate(309.4 515.6) scale(0.6 1)">=</text>
<text class="lg" y="527.9"><tspan x="205.3">2008-2010:</tspan><tspan x="256.5">c</tspan><tspan x="268.9">21.61</tspan><tspan x="298.4">w</tspan><tspan x="336.7" text-anchor="end">19.86</tspan></text>
<text class="lg" text-anchor="middle" transform="translate(265.8 527.8) scale(0.6 1)">=</text>
<text class="lg" text-anchor="middle" transform="translate(309.4 527.8) scale(0.6 1)">=</text>
<text class="lg" y="547.9"><tspan x="256.2" letter-spacing="0.09"><tspan font-style="italic">P</tspan>val conc</tspan><tspan x="336.1" text-anchor="end">0.1732</tspan></text>
<text class="lg" text-anchor="middle" transform="translate(302.6 547.8) scale(0.6 1)">=</text>
<text class="lg" y="560.0"><tspan x="254.9" letter-spacing="0.09"><tspan font-style="italic">P</tspan>val coinc</tspan><tspan x="335.0" text-anchor="end">0.6467</tspan></text>
<text class="lg" text-anchor="middle" transform="translate(302.6 559.9) scale(0.6 1)">=</text>
</g>
<g>
<path class="ax" d="M381.70 407.80V571.10H677.30M381.70 408.10h-2.5M381.70 424.40h-2.5M381.70 440.70h-2.5M381.70 457.00h-2.5M381.70 473.30h-2.5M381.70 489.60h-2.5M381.70 505.90h-2.5M381.70 522.20h-2.5M381.70 538.50h-2.5M381.70 554.80h-2.5M381.70 571.10h-2.5M381.70 571.10v2.6M418.60 571.10v2.6M455.50 571.10v2.6M492.40 571.10v2.6M529.30 571.10v2.6M566.20 571.10v2.6M603.10 571.10v2.6M640.00 571.10v2.6M676.90 571.10v2.6"/>
<text class="tk" text-anchor="end" transform="translate(374.5 412.2) scale(0.88 1)">0</text>
<text class="tk" text-anchor="end" transform="translate(374.5 428.5) scale(0.88 1)">0.1</text>
<text class="tk" text-anchor="end" transform="translate(374.5 444.8) scale(0.88 1)">0.2</text>
<text class="tk" text-anchor="end" transform="translate(374.5 461.0) scale(0.88 1)">0.3</text>
<text class="tk" text-anchor="end" transform="translate(374.5 477.3) scale(0.88 1)">0.4</text>
<text class="tk" text-anchor="end" transform="translate(374.5 493.5) scale(0.88 1)">0.5</text>
<text class="tk" text-anchor="end" transform="translate(374.5 509.8) scale(0.88 1)">0.6</text>
<text class="tk" text-anchor="end" transform="translate(374.5 526.1) scale(0.88 1)">0.7</text>
<text class="tk" text-anchor="end" transform="translate(374.5 542.3) scale(0.88 1)">0.8</text>
<text class="tk" text-anchor="end" transform="translate(374.5 558.6) scale(0.88 1)">0.9</text>
<text class="tk" text-anchor="end" transform="translate(374.5 574.8) scale(0.88 1)">1</text>
<text class="tk" text-anchor="middle" transform="translate(381.7 587.1) scale(0.99 1)">0</text>
<text class="tk" text-anchor="middle" transform="translate(418.6 587.1) scale(0.99 1)">10</text>
<text class="tk" text-anchor="middle" transform="translate(455.5 587.1) scale(0.99 1)">20</text>
<text class="tk" text-anchor="middle" transform="translate(492.4 587.1) scale(0.99 1)">30</text>
<text class="tk" text-anchor="middle" transform="translate(529.3 587.1) scale(0.99 1)">40</text>
<text class="tk" text-anchor="middle" transform="translate(566.2 587.1) scale(0.99 1)">50</text>
<text class="tk" text-anchor="middle" transform="translate(603.1 587.1) scale(0.99 1)">60</text>
<text class="tk" text-anchor="middle" transform="translate(640.0 587.1) scale(0.99 1)">70</text>
<text class="tk" text-anchor="middle" transform="translate(676.9 587.1) scale(0.99 1)">80</text>
<polyline class="dl" points="396.09,564.48 413.80,557.97 418.23,555.60 427.46,549.41 429.30,547.95 433.73,544.10 434.47,543.41 450.33,525.14 458.82,512.83 472.11,491.27 480.96,476.56 506.79,440.78 544.80,416.25 549.96,414.76 564.36,411.86 644.43,408.24 653.28,408.20"/>
<polyline class="sl" points="394.98,565.86 427.09,551.39 429.30,549.63 430.04,549.01 433.73,545.70 434.47,545.00 442.22,536.58 453.65,520.85 454.39,519.71 455.87,517.38 471.74,489.93 481.70,472.24 520.08,425.40 527.45,420.96 548.12,413.51 595.35,408.79 676.90,408.12"/>
<rect class="sq" x="505.49" y="434.40" width="2.6" height="2.8"/>
<rect class="sq" x="470.81" y="471.56" width="2.6" height="2.8"/>
<rect class="sq" x="449.03" y="487.54" width="2.6" height="2.8"/>
<rect class="sq" x="394.79" y="533.83" width="2.6" height="2.8"/>
<rect class="sq" x="412.50" y="556.65" width="2.6" height="2.8"/>
<rect class="sq" x="416.93" y="557.79" width="2.6" height="2.8"/>
<rect class="sq" x="426.16" y="551.59" width="2.6" height="2.8"/>
<rect class="sq" x="428.00" y="560.56" width="2.6" height="2.8"/>
<rect class="sq" x="432.43" y="560.56" width="2.6" height="2.8"/>
<rect class="sq" x="432.43" y="569.85" width="2.6" height="2.8"/>
<rect class="sq" x="457.52" y="569.85" width="2.6" height="2.8"/>
<rect class="sq" x="479.66" y="553.39" width="2.6" height="2.8"/>
<rect class="sq" x="543.50" y="406.85" width="2.6" height="2.8"/>
<rect class="sq" x="563.06" y="406.85" width="2.6" height="2.8"/>
<rect class="sq" x="643.13" y="406.85" width="2.6" height="2.8"/>
<rect class="sq" x="651.98" y="406.85" width="2.6" height="2.8"/>
<rect class="sq" x="548.66" y="429.67" width="2.6" height="2.8"/>
<path class="tr" d="M455.87 416.58L453.77 420.38L457.97 420.38Z"/>
<path class="tr" d="M429.30 456.84L427.20 460.64L431.40 460.64Z"/>
<path class="tr" d="M455.13 474.61L453.03 478.41L457.23 478.41Z"/>
<path class="tr" d="M481.70 469.88L479.60 473.68L483.80 473.68Z"/>
<path class="tr" d="M471.74 499.88L469.64 503.68L473.84 503.68Z"/>
<path class="tr" d="M394.98 525.47L392.88 529.27L397.08 529.27Z"/>
<path class="tr" d="M434.47 523.67L432.37 527.47L436.57 527.47Z"/>
<path class="tr" d="M433.73 528.40L431.63 532.20L435.83 532.20Z"/>
<path class="tr" d="M427.09 538.67L424.99 542.47L429.19 542.47Z"/>
<path class="tr" d="M430.04 562.47L427.94 566.27L432.14 566.27Z"/>
<path class="tr" d="M442.22 551.22L440.12 555.02L444.32 555.02Z"/>
<path class="tr" d="M453.65 554.64L451.55 558.44L455.75 558.44Z"/>
<path class="tr" d="M454.39 505.91L452.29 509.71L456.49 509.71Z"/>
<path class="tr" d="M520.08 406.15L517.98 409.95L522.18 409.95Z"/>
<path class="tr" d="M527.45 406.15L525.35 409.95L529.55 409.95Z"/>
<path class="tr" d="M595.35 406.15L593.25 409.95L597.45 409.95Z"/>
<path class="tr" d="M676.90 406.15L674.80 409.95L679.00 409.95Z"/>
<path class="tr" d="M548.12 464.83L546.02 468.63L550.22 468.63Z"/>
<text class="rb" text-anchor="end" x="672.0" y="495.9">Rb(12.13)</text>
<path class="dl" d="M527.3 515.4H539.4"/>
<rect class="sq" x="532.05" y="510.60" width="2.6" height="2.8"/>
<path class="sl" d="M527.3 529.2H539.4"/>
<path class="tr" d="M533.35 523.45L531.25 527.25L535.45 527.25Z"/>
<text class="lg" y="515.8"><tspan x="544.3">1996-2000:</tspan><tspan x="596.5">c</tspan><tspan x="608.9">24.77</tspan><tspan x="638.2">w</tspan><tspan x="676.7" text-anchor="end">26.40</tspan></text>
<text class="lg" text-anchor="middle" transform="translate(605.7 515.7) scale(0.6 1)">=</text>
<text class="lg" text-anchor="middle" transform="translate(649.2 515.7) scale(0.6 1)">=</text>
<text class="lg" y="528.2"><tspan x="544.3">2008-2010:</tspan><tspan x="596.5">c</tspan><tspan x="608.9">24.45</tspan><tspan x="638.2">w</tspan><tspan x="676.7" text-anchor="end">24.50</tspan></text>
<text class="lg" text-anchor="middle" transform="translate(605.7 528.1) scale(0.6 1)">=</text>
<text class="lg" text-anchor="middle" transform="translate(649.2 528.1) scale(0.6 1)">=</text>
<text class="lg" y="547.9"><tspan x="595.8" letter-spacing="0.09"><tspan font-style="italic">P</tspan>val conc</tspan><tspan x="675.0" text-anchor="end">0.6346</tspan></text>
<text class="lg" text-anchor="middle" transform="translate(641.9 547.8) scale(0.6 1)">=</text>
<text class="lg" y="560.0"><tspan x="594.4" letter-spacing="0.09"><tspan font-style="italic">P</tspan>val coinc</tspan><tspan x="675.0" text-anchor="end">0.8330</tspan></text>
<text class="lg" text-anchor="middle" transform="translate(642.3 559.9) scale(0.6 1)">=</text>
</g>
<text x="256.3" y="603.8" font-size="11.1" fill="#262626" textLength="214" lengthAdjust="spacing">Distance from the polymorphism centre (km)</text>
<text transform="translate(9.2 323.4) rotate(-90)" font-size="11.1" fill="#262626" textLength="70.6" lengthAdjust="spacing"><tspan font-style="italic">f</tspan> (metacentric)</text>
</svg></body></html>
